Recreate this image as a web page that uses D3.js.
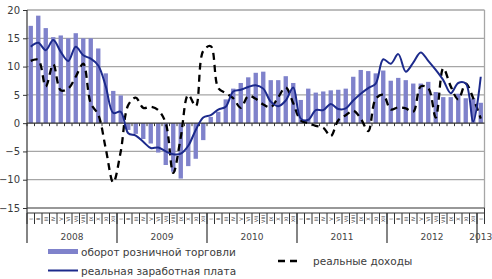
<!DOCTYPE html>
<html lang="ru">
<head>
    <meta charset="UTF-8">
    <title>Оборот, зарплата, доходы</title>
    <script src="https://d3js.org/d3.v7.min.js"></script>
    <style>
        body {
            margin: 0;
            background: #fff;
            font-family: 'DejaVu Sans', sans-serif;
        }

        svg {
            display: block;
        }

        .grid line {
            stroke: #a6a6a6;
            stroke-width: 1.3px;
        }

        .tick-label {
            font-size: 10px;
            fill: #3a3a3a;
        }

        .legend text {
            font-size: 10.5px;
            fill: #3c3c3c;
        }
    </style>
</head>
<body>
    <svg width="492" height="279" id="chart"></svg>

    <script>
        const years = ["2008", "2009", "2010", "2011", "2012", "2013"];
        const monthLabels = ["I", "II", "III", "IV", "V", "VI", "VII", "VIII", "IX", "X", "XI", "XII"];
        const yTicks = [-15, -10, -5, 0, 5, 10, 15, 20];

        // оборот розничной торговли, % г/г (янв 2008 - янв 2013)
        const retail = [
            17.2, 19.0, 16.8, 15.2, 15.5, 15.0, 15.9, 15.0, 15.0, 13.2, 8.8, 5.7,
            4.9, -1.2, -1.9, -2.8, -3.6, -5.2, -7.4, -8.6, -9.8, -7.6, -6.3, -3.0,
            1.1, 2.0, 4.2, 6.1, 7.1, 8.1, 8.9, 9.1, 7.6, 7.6, 8.3, 7.1,
            4.1, 6.1, 5.4, 5.6, 5.8, 5.9, 6.1, 8.2, 9.4, 9.2, 8.8, 9.3,
            7.5, 8.0, 7.6, 7.0, 7.0, 7.3, 5.5, 4.6, 4.6, 5.2, 4.4, 4.4,
            3.6
        ];

        // реальная заработная плата
        const wage = [
            13.5, 14.2, 12.9, 14.7, 12.6, 11.0, 13.5, 12.0, 11.4, 10.2, 6.5, 1.8,
            2.0, -1.8, -2.2, -3.3, -4.4, -4.3, -5.0, -5.5, -5.4, -4.0, -1.2, 1.0,
            1.4, 2.4, 2.9, 5.6, 5.9, 6.4, 6.7, 6.1, 3.8, 3.0, 4.0, 6.3,
            0.8, 0.6, 2.3, 2.3, 3.4, 2.5, 2.6, 4.0, 5.2, 6.2, 7.0, 11.3,
            10.5, 12.2, 9.1, 10.7, 12.5, 11.0, 9.4, 7.6, 5.3, 7.1, 7.0, 0.3,
            8.2
        ];

        // реальные доходы
        const income = [
            11.0, 11.2, 6.5, 10.4, 5.8, 6.1, 8.2, 10.5, 3.5, 1.5, -4.5, -10.5,
            -5.0, 3.2, 4.5, 2.7, 2.9, 2.3, 0.0, -8.8, -2.5, 5.0, 3.0, 12.8,
            13.6, 6.2, 5.3, 4.4, 2.7, 4.8, 4.3, 3.3, 2.8, 4.6, 6.3, 3.5,
            0.5, 0.0, -0.5, -0.8, -2.3, 0.5, 1.4, 2.2, 0.8, -1.4, 4.3, 5.0,
            2.4, 2.8, 2.6, 2.0, 6.5, 6.2, 1.0, 9.7, 6.5, 4.2, 7.0, 4.4,
            0.8
        ];

        // month keys: year index + month index
        const months = retail.map((_, i) => ({ y: Math.floor(i / 12), m: i % 12, key: i }));

        const svg = d3.select("#chart");
        const plotLeft = 27, plotRight = 484.5, plotTop = 10, plotBottom = 208;

        const x = d3.scaleBand().domain(months.map(d => d.key)).range([plotLeft, plotRight]).paddingInner(0.42).paddingOuter(0.21);
        const xs = d3.scaleBand().domain(months.map(d => d.key)).range([plotLeft, plotRight]); // full month slots
        const y = d3.scaleLinear().domain([-15, 20]).range([plotBottom, plotTop]);
        const cx = i => xs(i) + xs.bandwidth() / 2;

        // gridlines
        svg.append("g").attr("class", "grid")
            .selectAll("line").data(yTicks.filter(v => v !== 0 && v !== -15)).enter().append("line")
            .attr("x1", plotLeft).attr("x2", plotRight)
            .attr("y1", d => y(d)).attr("y2", d => y(d));

        // right border
        svg.append("line").attr("x1", plotRight).attr("x2", plotRight).attr("y1", y(20)).attr("y2", y(-15))
            .style("stroke", "#a6a6a6").style("stroke-width", 1.3);

        // bars
        svg.append("g").selectAll("rect").data(retail).enter().append("rect")
            .attr("x", (d, i) => x(i))
            .attr("width", x.bandwidth())
            .attr("y", d => y(Math.max(0, d)))
            .attr("height", d => Math.abs(y(d) - y(0)))
            .style("fill", "#7f82cb");

        // zero axis with month ticks
        svg.append("line").attr("x1", plotLeft).attr("x2", plotRight).attr("y1", y(0)).attr("y2", y(0))
            .style("stroke", "#333").style("stroke-width", 1.2);
        svg.append("g").selectAll("line").data(months).enter().append("line")
            .attr("x1", d => xs(d.key)).attr("x2", d => xs(d.key))
            .attr("y1", y(0)).attr("y2", y(0) + 3)
            .style("stroke", "#333").style("stroke-width", 1);

        // y axis
        const yAxis = d3.axisLeft(y).tickValues(yTicks).tickSize(4).tickFormat(d3.format("d"));
        const ga = svg.append("g").attr("transform", `translate(${plotLeft},0)`).call(yAxis);
        ga.select(".domain").remove();
        ga.selectAll(".tick line").style("stroke", "#333");
        ga.selectAll(".tick text").attr("class", "tick-label").attr("x", -7)
            .style("font-family", "'DejaVu Sans', sans-serif");
        svg.append("line").attr("x1", plotLeft).attr("x2", plotLeft).attr("y1", plotTop).attr("y2", 243)
            .style("stroke", "#333").style("stroke-width", 1.2);

        // bottom axis: -15 line and month table
        svg.append("line").attr("x1", plotLeft).attr("x2", plotRight).attr("y1", plotBottom).attr("y2", plotBottom)
            .style("stroke", "#333").style("stroke-width", 1.2);
        svg.append("line").attr("x1", plotLeft).attr("x2", plotRight).attr("y1", 213).attr("y2", 213)
            .style("stroke", "#333").style("stroke-width", 1);
        svg.append("g").selectAll("line").data(months).enter().append("line")
            .attr("x1", d => xs(d.key)).attr("x2", d => xs(d.key))
            .attr("y1", 213).attr("y2", 224)
            .style("stroke", "#333").style("stroke-width", 1);
        svg.append("line").attr("x1", plotRight).attr("x2", plotRight).attr("y1", 208).attr("y2", 224)
            .style("stroke", "#333");
        svg.append("g").selectAll("text").data(months).enter().append("text")
            .attr("transform", d => `translate(${cx(d.key) + 2},219) rotate(-90)`)
            .attr("text-anchor", "middle")
            .style("font-size", "5px").style("fill", "#333")
            .text(d => monthLabels[d.m]);

        // year separators and labels
        const yearStart = years.map((yr, k) => xs(k * 12));
        svg.append("g").selectAll("line").data(yearStart.slice(1)).enter().append("line")
            .attr("x1", d => d).attr("x2", d => d).attr("y1", 213).attr("y2", 243)
            .style("stroke", "#333").style("stroke-width", 1.2);
        svg.append("g").selectAll("text").data(years).enter().append("text")
            .attr("x", (yr, k) => {
                const idx = months.filter(d => d.y === k).map(d => d.key);
                return (xs(idx[0]) + xs(idx[idx.length - 1]) + xs.bandwidth()) / 2;
            })
            .attr("y", 240)
            .attr("text-anchor", "middle")
            .style("font-size", "9px").style("fill", "#444")
            .text(d => d);

        // lines
        const line = d3.line().x((d, i) => cx(i)).y(d => y(d)).curve(d3.curveCatmullRom.alpha(0.5));

        svg.append("path").datum(income).attr("d", line)
            .style("fill", "none").style("stroke", "#000").style("stroke-width", 2.3)
            .style("stroke-dasharray", "7,5");

        svg.append("path").datum(wage).attr("d", line)
            .style("fill", "none").style("stroke", "#1c2a8c").style("stroke-width", 2);

        // legend
        const lg = svg.append("g").attr("class", "legend");
        lg.append("rect").attr("x", 48).attr("y", 249).attr("width", 30).attr("height", 5).style("fill", "#7f82cb");
        lg.append("text").attr("x", 81).attr("y", 256).text("оборот розничной торговли");
        lg.append("line").attr("x1", 278).attr("x2", 300).attr("y1", 261).attr("y2", 261)
            .style("stroke", "#000").style("stroke-width", 2.3).style("stroke-dasharray", "7,5");
        lg.append("text").attr("x", 313).attr("y", 265).text("реальные доходы");
        lg.append("line").attr("x1", 48).attr("x2", 78).attr("y1", 270.5).attr("y2", 270.5)
            .style("stroke", "#1c2a8c").style("stroke-width", 2);
        lg.append("text").attr("x", 81).attr("y", 275).text("реальная заработная плата");
    </script>
</body>
</html>
